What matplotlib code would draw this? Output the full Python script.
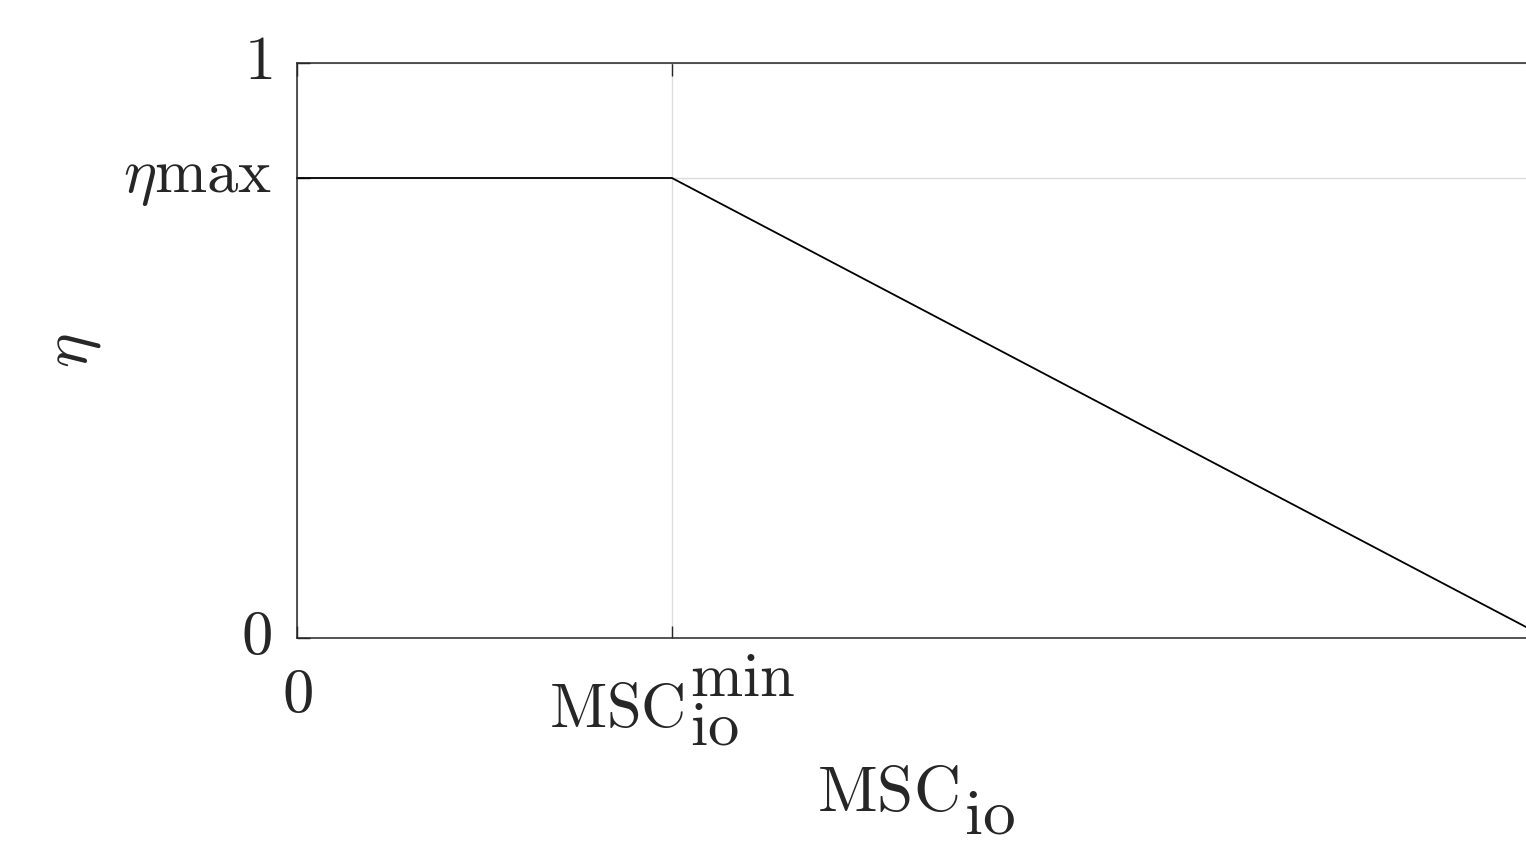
import matplotlib
matplotlib.use('Agg')
import matplotlib.pyplot as plt
import matplotlib.transforms as mtransforms
import matplotlib._mathtext as mathtext_internals

plt.rcParams['mathtext.fontset'] = 'cm'
plt.rcParams['font.family'] = 'serif'
# the original draws sub/superscripts at full size and drops subscripts lower
mathtext_internals.SHRINK_FACTOR = 1.0
mathtext_internals.ComputerModernFontConstants.sub1 = 0.42
mathtext_internals.ComputerModernFontConstants.sub2 = 0.35

TEXT_COLOR = '#262626'
FIG_SIZE = (15.26, 8.41)

# piecewise efficiency curve
msc_io = [0.0, 0.3, 1.0]
eta = [0.8, 0.8, 0.0]

x_ticks = [0.0, 0.3]
x_tick_labels = [r'$0$', r'$\mathrm{MSC}_{\mathrm{io}}^{\mathrm{min}}$']
y_ticks = [0.0, 0.8, 1.0]
y_tick_labels = [r'$0$', r'$\eta\mathrm{max}$', r'$1$']


def shift_label(fig, label, dy_pt):
    offset = mtransforms.ScaledTranslation(0, dy_pt / 72, fig.dpi_scale_trans)
    label.set_transform(label.get_transform() + offset)


def do_main():
    fig = plt.figure(figsize=FIG_SIZE, dpi=100)
    # axes run past the right edge of the figure, like the cropped original
    ax = fig.add_axes([0.1946, 0.2414, 0.8191, 0.6837])

    ax.plot(msc_io, eta, color='black', lw=1.3, clip_on=False)

    ax.set_xlim(0, 1)
    ax.set_ylim(0, 1)
    ax.set_xticks(x_ticks)
    ax.set_xticklabels(x_tick_labels)
    ax.set_yticks(y_ticks)
    ax.set_yticklabels(y_tick_labels)

    ax.grid(True, color='#dcdcdc', lw=1.0)
    ax.set_axisbelow(True)

    ax.tick_params(direction='in', length=9, width=1.0, colors=TEXT_COLOR,
                   labelsize=45, top=True, right=True)
    ax.tick_params(axis='x', pad=19)
    ax.tick_params(axis='y', pad=18)
    for sp in ax.spines.values():
        sp.set_color(TEXT_COLOR)
        sp.set_linewidth(1.1)

    # nudge labels to where the original puts them
    shift_label(fig, ax.get_xticklabels()[1], 8.5)
    for lab in ax.get_yticklabels():
        shift_label(fig, lab, 5.8)

    ax.set_xlabel(r'$\mathrm{MSC}_{\mathrm{io}}$', fontsize=47,
                  color=TEXT_COLOR)
    ax.xaxis.set_label_coords(0.495, -0.219)
    ax.set_ylabel(r'$\eta$', fontsize=47, color=TEXT_COLOR)
    ax.yaxis.set_label_coords(-0.155, 0.5)

    fig.savefig('out.png', dpi=100)


if __name__ == '__main__':
    do_main()
